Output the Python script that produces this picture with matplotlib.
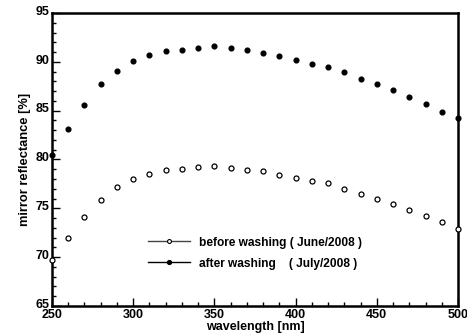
import matplotlib
matplotlib.use("Agg")
import matplotlib.pyplot as plt
from matplotlib.ticker import MultipleLocator
from matplotlib.transforms import ScaledTranslation

plt.rcParams['font.family'] = ['Liberation Sans', 'DejaVu Sans']
plt.rcParams['font.weight'] = 'bold'

wavelength = [250, 260, 270, 280, 290, 300, 310, 320, 330, 340, 350, 360, 370,
              380, 390, 400, 410, 420, 430, 440, 450, 460, 470, 480, 490, 500]
before_washing = [69.7, 72.0, 74.1, 75.9, 77.2, 78.0, 78.55, 78.95, 79.05, 79.25,
                  79.35, 79.15, 78.95, 78.8, 78.4, 78.15, 77.75, 77.55, 77.0, 76.45,
                  76.0, 75.45, 74.85, 74.2, 73.55, 72.9]
after_washing = [80.5, 83.1, 85.6, 87.7, 89.1, 90.05, 90.7, 91.15, 91.25, 91.45,
                 91.6, 91.4, 91.2, 90.95, 90.55, 90.15, 89.75, 89.5, 88.95, 88.2,
                 87.7, 87.1, 86.4, 85.65, 84.85, 84.2]
labels = ["before washing ( June/2008 )", "after washing    ( July/2008 )"]

fig = plt.figure(figsize=(4.67, 3.33), dpi=100)
ax = fig.add_axes([0.1113, 0.0811, 0.8694, 0.8799])

ax.plot(wavelength, before_washing, linestyle='none', marker='o', ms=3.6,
        mfc='white', mec='black', mew=0.9, clip_on=False, zorder=3)
ax.plot(wavelength, after_washing, linestyle='none', marker='o', ms=3.4,
        mfc='black', mec='black', clip_on=False, zorder=3)

# legend handles: line with small marker
h1, = ax.plot([], [], color='#444444', lw=1.0, marker='o', ms=2.8,
              mfc='white', mec='black', mew=0.8)
h2, = ax.plot([], [], color='black', lw=1.0, marker='o', ms=2.8,
              mfc='black', mec='black')
ax.legend([h1, h2], labels, loc='upper left', bbox_to_anchor=(0.236, 0.237),
          frameon=False, fontsize=8.6, handlelength=3.5, handletextpad=0.75,
          labelspacing=0.75, borderpad=0, borderaxespad=0)

ax.set_xlim(250, 500)
ax.set_ylim(65, 95)
ax.xaxis.set_major_locator(MultipleLocator(50))
ax.xaxis.set_minor_locator(MultipleLocator(10))
ax.yaxis.set_major_locator(MultipleLocator(5))
ax.yaxis.set_minor_locator(MultipleLocator(1))
ax.tick_params(which='both', direction='in', top=False, right=False,
               labelsize=9, width=1.0, pad=2)
ax.tick_params(which='major', length=6)
ax.tick_params(which='minor', length=3)
for lab in ax.get_xticklabels() + ax.get_yticklabels():
    lab.set_fontweight('bold')
for s in ax.spines.values():
    s.set_linewidth(1.8)

# lift the y tick labels slightly so the lowest one sits above the x labels
lift = ScaledTranslation(0, 2 / 72, fig.dpi_scale_trans)
for lab in ax.get_yticklabels():
    lab.set_transform(lab.get_transform() + lift)

ax.set_xlabel("wavelength [nm]", fontsize=9, fontweight='bold', labelpad=0)
ax.set_ylabel("mirror reflectance [%]", fontsize=9.3, fontweight='bold', labelpad=3)

fig.savefig("out.png", dpi=100)
